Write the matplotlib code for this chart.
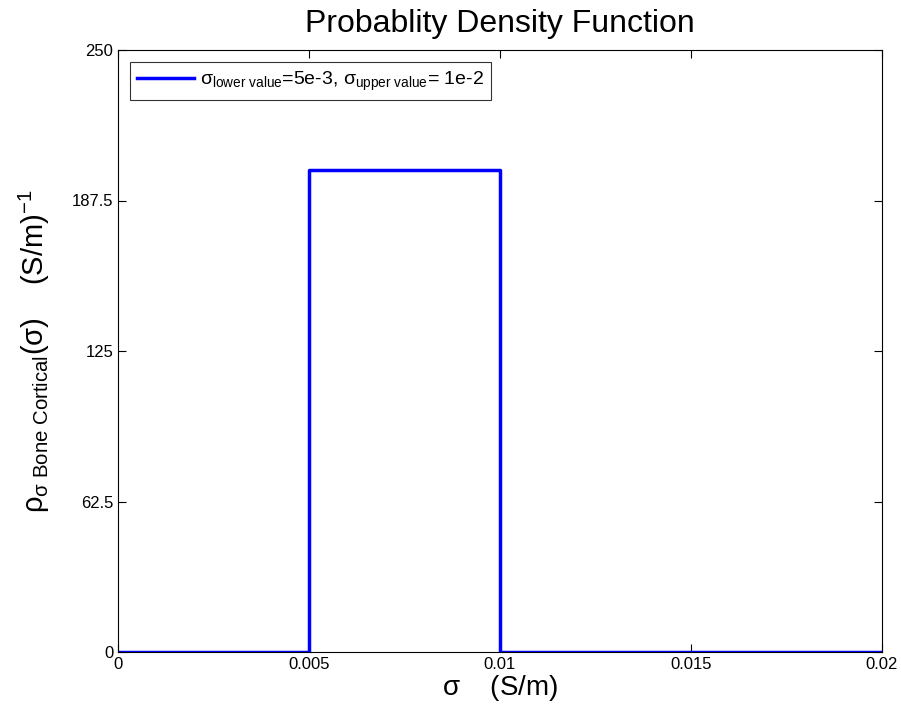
import matplotlib
matplotlib.use("Agg")
import matplotlib.pyplot as plt

x = [0, 0.005, 0.005, 0.005, 0.01, 0.01, 0.01, 0.02]
y = [0, 0, 100, 200, 200, 100, 0, 0]
xticks = [0, 0.005, 0.01, 0.015, 0.02]
xticklabels = ["0", "0.005", "0.01", "0.015", "0.02"]
yticks = [0, 62.5, 125, 187.5, 250]
yticklabels = ["0", "62.5", "125", "187.5", "250"]

plt.rcParams['font.family'] = ['Liberation Sans', 'DejaVu Sans']
plt.rcParams['mathtext.fontset'] = 'custom'
plt.rcParams['mathtext.rm'] = 'Liberation Sans'
plt.rcParams['mathtext.it'] = 'Liberation Sans'
plt.rcParams['mathtext.default'] = 'regular'

fig = plt.figure(figsize=(9.01, 7.13), dpi=100)
ax = fig.add_axes([118/901, 1-652/713, (882-118)/901, (652-50)/713])
ax.plot(x, y, color='#0000ff', lw=2.5, label=r'$\sigma_{lower\ value}$=5e-3, $\sigma_{upper\ value}$= 1e-2')
ax.set_xlim(0, 0.02)
ax.set_ylim(0, 250)
ax.set_xticks(xticks)
ax.set_xticklabels(xticklabels, fontsize=12)
ax.set_yticks(yticks)
ax.set_yticklabels(yticklabels, fontsize=12)
ax.tick_params(direction='in', length=6, width=0.8, top=True, right=True, colors='black')
for s in ax.spines.values():
    s.set_linewidth(0.8)
ax.set_title('Probablity Density Function', fontsize=23, pad=13)
ax.set_xlabel(r'$\sigma$    (S/m)', fontsize=20, labelpad=1)
ax.set_ylabel(r'$\rho_{\sigma\ Bone\ Cortical}(\sigma)$    (S/m)$^{-1}$', fontsize=21, labelpad=14)
leg = ax.legend(loc='upper left', fontsize=14, frameon=True, fancybox=False,
                edgecolor='black', handlelength=2.9, handletextpad=0.3, borderaxespad=0.6)
leg.get_frame().set_linewidth(0.8)
fig.savefig('out.png', dpi=100)
